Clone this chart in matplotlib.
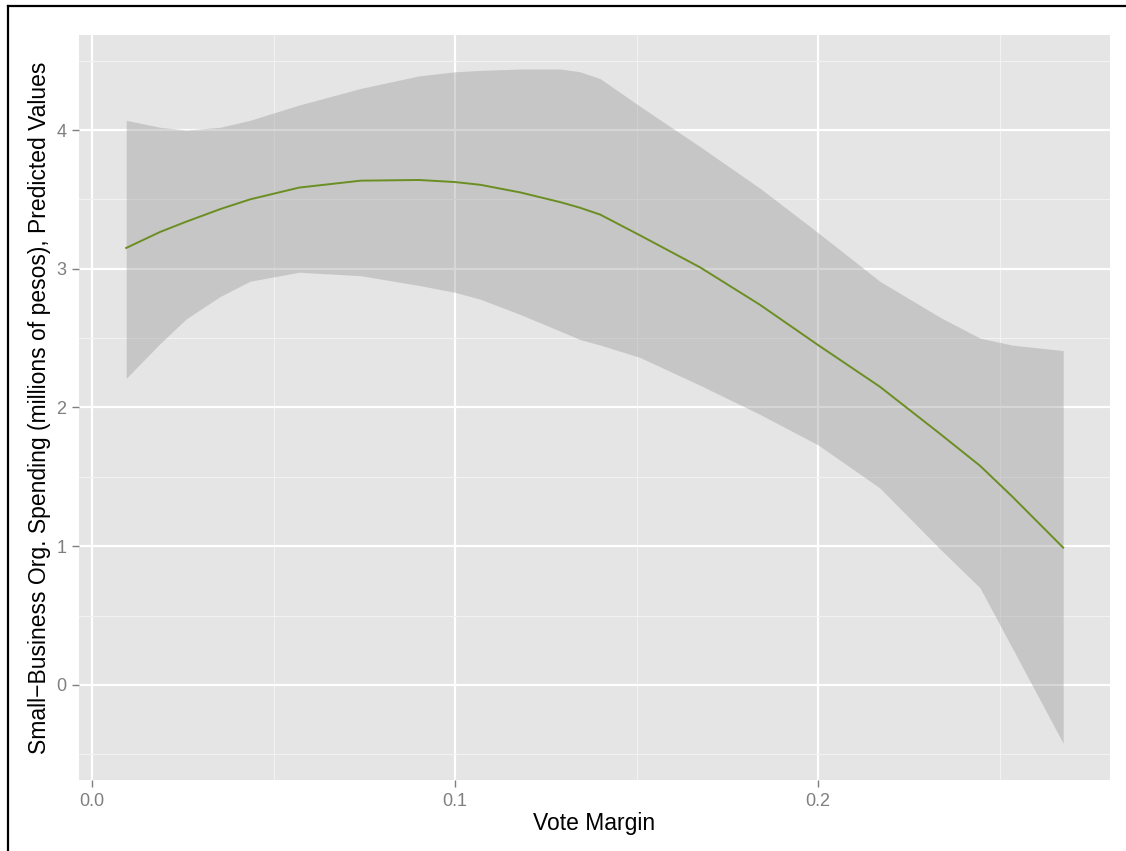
import matplotlib
matplotlib.use("Agg")
import matplotlib.pyplot as plt
from matplotlib.lines import Line2D

# vote margin positions where the curve was read
margin = [0.0094, 0.0187, 0.026, 0.0353, 0.0435, 0.057, 0.074, 0.09, 0.1,
          0.107, 0.118, 0.129, 0.1344, 0.14, 0.151, 0.1675, 0.184, 0.2,
          0.217, 0.2336, 0.2446, 0.2534, 0.2675]
fit = [3.15, 3.265, 3.34, 3.43, 3.50, 3.585, 3.635, 3.64, 3.625,
       3.605, 3.55, 3.48, 3.44, 3.39, 3.24, 3.01, 2.74, 2.45,
       2.15, 1.81, 1.58, 1.36, 0.99]
upper = [4.07, 4.02, 4.00, 4.02, 4.07, 4.18, 4.30, 4.39, 4.42,
         4.43, 4.44, 4.44, 4.42, 4.37, 4.17, 3.88, 3.58, 3.26,
         2.91, 2.65, 2.50, 2.45, 2.41]
lower = [2.21, 2.46, 2.64, 2.80, 2.91, 2.975, 2.95, 2.88, 2.83,
         2.78, 2.67, 2.55, 2.49, 2.45, 2.36, 2.16, 1.95, 1.73,
         1.42, 0.98, 0.70, 0.27, -0.42]

x_ticks = [0.0, 0.1, 0.2]
x_labels = ["0.0", "0.1", "0.2"]
y_ticks = [0, 1, 2, 3, 4]

plt.rcParams["font.family"] = ["Liberation Sans", "DejaVu Sans"]

fig = plt.figure(figsize=(11.26, 8.51), dpi=100)
ax = fig.add_axes([79 / 1126, 71 / 851, 1031 / 1126, 745 / 851])
ax.set_facecolor("#E5E5E5")

ax.fill_between(margin, lower, upper, color="#999999", alpha=0.4, linewidth=0, zorder=2)
ax.plot(margin, fit, color="#6B8E23", linewidth=1.4, zorder=3)

ax.set_xlim(-0.0036, 0.2804)
ax.set_ylim(-0.685, 4.685)
ax.set_xticks(x_ticks)
ax.set_xticklabels(x_labels)
ax.set_yticks(y_ticks)
ax.set_xticks([0.05, 0.15, 0.25], minor=True)
ax.set_yticks([-0.5, 0.5, 1.5, 2.5, 3.5, 4.5], minor=True)

ax.grid(which="major", color="white", linewidth=1.6, zorder=1)
ax.grid(which="minor", color="#F2F2F2", linewidth=0.8, zorder=1)
ax.set_axisbelow(True)
for s in ax.spines.values():
    s.set_visible(False)

ax.tick_params(which="major", direction="out", length=5, width=1, color="#7F7F7F",
               labelcolor="#7F7F7F", labelsize=13, pad=4)
ax.tick_params(which="minor", length=0)

ax.set_xlabel("Vote Margin", fontsize=16.5)
ax.set_ylabel("Small\u2212Business Org. Spending (millions of pesos), Predicted Values",
              fontsize=16.5)
ax.xaxis.set_label_coords(0.5, (780 - 812) / 745)
ax.yaxis.set_label_coords((51 - 79) / 1031, 0.5)

# frame lines of the cropped page
fig.add_artist(Line2D([8 / 1126, 8 / 1126], [0, 845 / 851], color="black", linewidth=1.6))
fig.add_artist(Line2D([8 / 1126, 1], [845 / 851, 845 / 851], color="black", linewidth=1.6))

fig.savefig("out.png", dpi=100)
